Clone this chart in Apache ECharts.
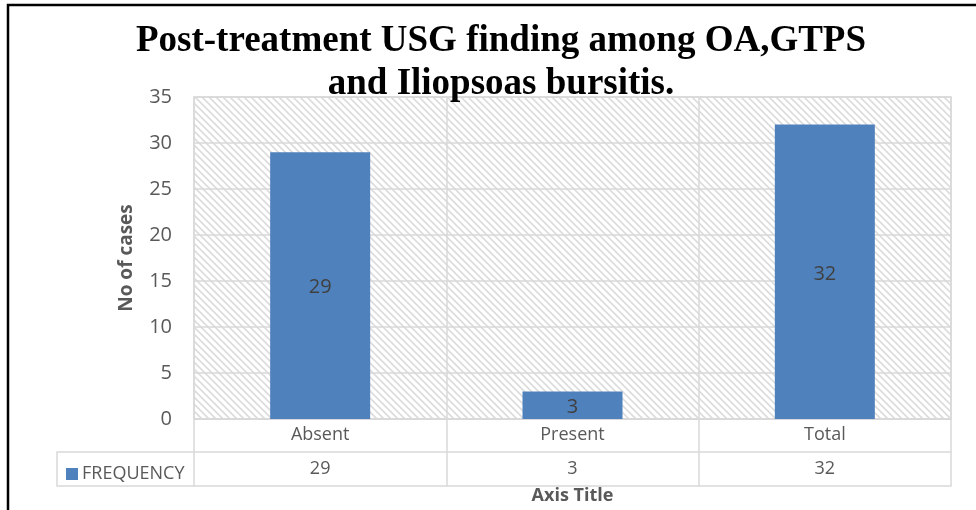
<!DOCTYPE html>
<html>
<head>
<meta charset="utf-8">
<script src="https://cdn.jsdelivr.net/npm/echarts@6/dist/echarts.min.js"></script>
<style>
  html, body { margin: 0; padding: 0; background: #fff; }
  #chart { width: 976px; height: 510px; }
</style>
</head>
<body>
<div id="chart"></div>
<script>
// Post-treatment USG findings
const categories = ['Absent', 'Present', 'Total'];
const frequency = [29, 3, 32];
const seriesName = 'FREQUENCY';
const yTicks = { min: 0, max: 35, interval: 5 };

const GRID_COLOR = '#d9d9d9';
const TEXT_COLOR = '#595959';
const BAR_COLOR = '#4f81bd';
const FONT = '"Liberation Sans Narrow", "Open Sans", sans-serif';

// Diagonal hatch used for the plot background
function hatchPattern() {
  const c = document.createElement('canvas');
  c.width = 7; c.height = 7;
  const g = c.getContext('2d');
  g.fillStyle = '#ffffff';
  g.fillRect(0, 0, 7, 7);
  g.strokeStyle = '#dcdcdc';
  g.lineWidth = 1.6;
  g.beginPath();
  g.moveTo(-1, -1); g.lineTo(8, 8);
  g.moveTo(-8, -1); g.lineTo(1, 8);
  g.moveTo(6, -1); g.lineTo(15, 8);
  g.stroke();
  return c;
}

const chart = echarts.init(document.getElementById('chart'), null, { renderer: 'canvas' });

const gridLeft = 194, gridRight = 25, gridTop = 97, gridBottom = 91;

chart.setOption({
  backgroundColor: '#ffffff',
  animation: false,
  title: {
    text: 'Post-treatment USG finding among OA,GTPS\nand Iliopsoas bursitis.',
    left: 501,
    textAlign: 'center',
    top: 20,
    padding: 0,
    textStyle: {
      fontFamily: '"Liberation Serif", serif',
      fontWeight: 'bold',
      fontSize: 37,
      lineHeight: 43,
      color: '#000000'
    }
  },
  legend: {
    data: [seriesName],
    left: 61,
    top: 460,
    itemWidth: 12,
    itemHeight: 12,
    itemGap: 4,
    icon: 'rect',
    textStyle: { fontFamily: FONT, fontSize: 18, color: TEXT_COLOR, padding: [0, 0, 0, -1] }
  },
  grid: {
    left: gridLeft, right: gridRight, top: gridTop, bottom: gridBottom,
    outerBoundsMode: 'none',
    containLabel: false,
    show: true,
    borderColor: GRID_COLOR,
    borderWidth: 1.5,
    backgroundColor: { image: hatchPattern(), repeat: 'repeat' }
  },
  xAxis: [
    {
      type: 'category',
      data: categories,
      position: 'bottom',
      axisLine: { show: true, lineStyle: { color: GRID_COLOR, width: 1.5 } },
      axisTick: { show: true, length: 33, lineStyle: { color: GRID_COLOR, width: 1.5 } },
      splitLine: { show: true, lineStyle: { color: GRID_COLOR, width: 1.5 } },
      axisLabel: { fontFamily: FONT, fontSize: 18, color: TEXT_COLOR, margin: 7 }
    },
    {
      type: 'category',
      data: categories,
      position: 'bottom',
      offset: 33,
      axisLine: { show: true, lineStyle: { color: GRID_COLOR, width: 1.5 } },
      axisTick: { show: true, length: 34, lineStyle: { color: GRID_COLOR, width: 1.5 } },
      axisLabel: {
        fontFamily: FONT, fontSize: 18, color: TEXT_COLOR, margin: 8,
        formatter: (v, i) => String(frequency[i])
      }
    },
    {
      type: 'category',
      data: categories,
      position: 'bottom',
      offset: 67,
      axisLine: { show: true, lineStyle: { color: GRID_COLOR, width: 1.5 } },
      axisTick: { show: false },
      axisLabel: { show: false },
      name: 'Axis Title',
      nameLocation: 'middle',
      nameGap: 1,
      nameTextStyle: { fontFamily: FONT, fontSize: 18, fontWeight: 'bold', color: TEXT_COLOR }
    }
  ],
  yAxis: {
    type: 'value',
    min: yTicks.min,
    max: yTicks.max,
    interval: yTicks.interval,
    axisLine: { show: false },
    axisTick: { show: false },
    splitLine: { show: true, lineStyle: { color: GRID_COLOR, width: 1.5 } },
    axisLabel: { fontFamily: FONT, fontSize: 20, color: TEXT_COLOR, margin: 22 },
    name: 'No of cases',
    nameLocation: 'middle',
    nameGap: 58,
    nameTextStyle: { fontFamily: '"Open Sans", sans-serif', fontSize: 19, fontWeight: 'bold', color: TEXT_COLOR }
  },
  series: [{
    name: seriesName,
    type: 'bar',
    xAxisIndex: 0,
    data: frequency,
    barWidth: 100,
    itemStyle: { color: BAR_COLOR },
    label: {
      show: true,
      position: 'inside',
      fontFamily: FONT,
      fontSize: 20,
      color: '#404040',
      offset: [0, 2]
    }
  }],
  graphic: [
    // outer frame (left and top edges)
    {
      type: 'polyline',
      shape: { points: [[8, 510], [8, 5], [976, 5]] },
      style: { stroke: '#000000', lineWidth: 2.5, fill: null },
      silent: true
    },
    // legend cell of the data table
    {
      type: 'polyline',
      shape: { points: [[gridLeft, 452], [57, 452], [57, 486], [gridLeft, 486]] },
      style: { stroke: GRID_COLOR, lineWidth: 1.5, fill: null },
      silent: true
    }
  ]
});
</script>
</body>
</html>
